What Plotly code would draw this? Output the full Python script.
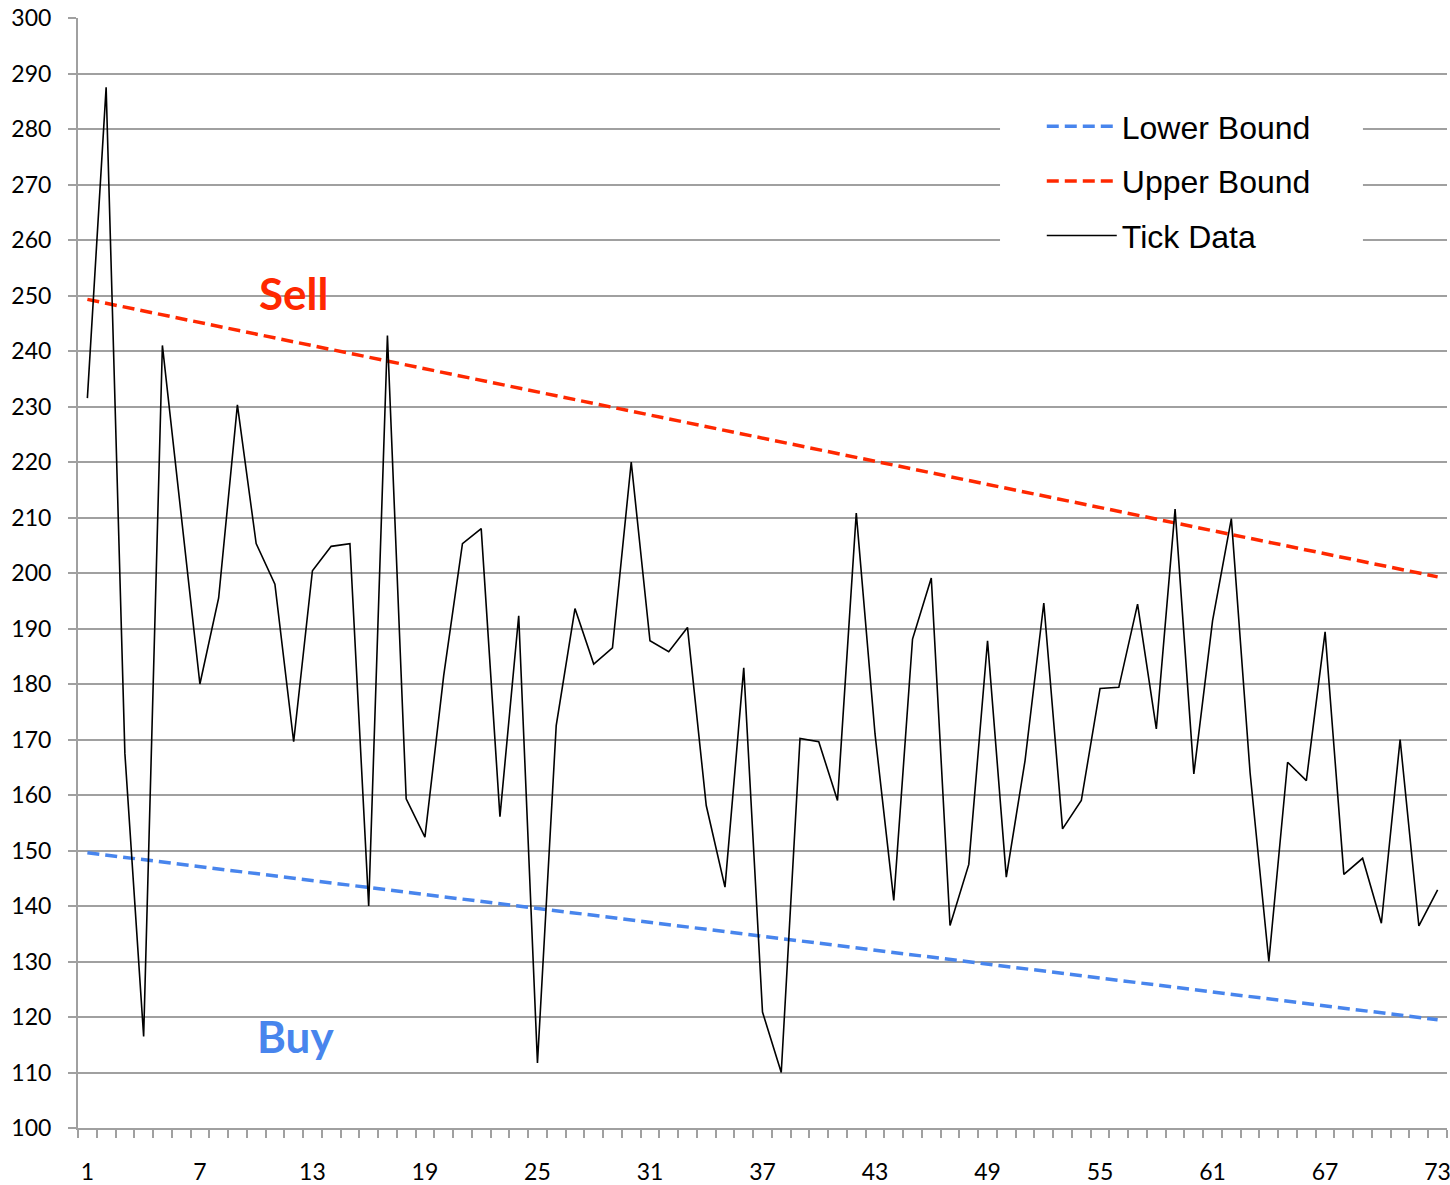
import plotly.graph_objects as go

x_idx = list(range(1, 74))
tick_data = [231.5, 287.5, 167.5, 116.5, 241.0, 210.0, 180.0, 195.5, 230.3, 205.3,
             198.0, 169.6, 200.4, 204.8, 205.3, 140.0, 242.8, 159.3, 152.4, 181.5,
             205.3, 208.0, 156.1, 192.3, 111.7, 172.5, 193.6, 183.6, 186.5, 220.0,
             187.8, 185.8, 190.2, 158.1, 143.4, 182.9, 120.9, 110.0, 170.2, 169.6,
             159.0, 210.8, 171.0, 141.0, 188.1, 199.1, 136.5, 147.5, 187.8, 145.2,
             166.2, 194.6, 153.9, 159.0, 179.2, 179.4, 194.4, 171.9, 211.5, 163.8,
             191.4, 209.8, 164.0, 130.0, 165.9, 162.6, 189.4, 145.7, 148.6, 136.9,
             170.0, 136.4, 142.9]
bound_x = [1, 73]
lower_bound = [149.6, 119.5]
upper_bound = [249.3, 199.3]
x_tickvals = [1, 7, 13, 19, 25, 31, 37, 43, 49, 55, 61, 67, 73]
y_tickvals = list(range(100, 301, 10))

BLUE = "rgb(72,133,237)"
RED = "rgb(255,40,0)"
GRID = "rgb(160,160,160)"

fig = go.Figure()
fig.add_trace(go.Scatter(x=bound_x, y=lower_bound, mode="lines", name="Lower Bound",
                         legendgroup="a",
                         line=dict(color=BLUE, width=3.5, dash="12px,6px")))
fig.add_trace(go.Scatter(x=bound_x, y=upper_bound, mode="lines", name="Upper Bound",
                         legendgroup="b",
                         line=dict(color=RED, width=3.5, dash="12px,6px")))
fig.add_trace(go.Scatter(x=x_idx, y=tick_data, mode="lines", name="Tick Data",
                         legendgroup="c",
                         line=dict(color="black", width=1.6)))

fig.add_annotation(x=12, y=250.5, text="<b>Sell</b>", showarrow=False,
                   font=dict(family="Lato", size=44, color=RED))
fig.add_annotation(x=12.1, y=116.5, text="<b>Buy</b>", showarrow=False,
                   font=dict(family="Lato", size=44, color=BLUE))

# white panel behind the legend (covers gridlines like the reference)
fig.add_shape(type="rect", xref="paper", yref="y", x0=0.6735, x1=0.9386,
              y0=256, y1=284, fillcolor="white", line=dict(width=0), layer="above")

fig.update_layout(
    width=1450, height=1185,
    margin=dict(l=78, r=3, t=18, b=57, autoexpand=False),
    paper_bgcolor="white", plot_bgcolor="white",
    font=dict(family="Lato", size=23, color="black"),
    showlegend=True,
    legend=dict(x=0.704, y=0.927, xanchor="left", yanchor="top",
                bgcolor="rgba(0,0,0,0)", borderwidth=0,
                font=dict(family="Liberation Sans", size=32, color="black"),
                itemwidth=70, tracegroupgap=10),
)
fig.update_xaxes(range=[0.5, 73.5], tickmode="array", tickvals=x_tickvals,
                 ticks="", showgrid=False, zeroline=False, automargin=False,
                 showline=True, linecolor=GRID, linewidth=2,
                 ticklabelstandoff=22, ticklabeloverflow="allow",
                 tickfont=dict(family="Lato", size=23),
                 minor=dict(tickmode="linear", tick0=0.5, dtick=1, ticks="outside",
                            ticklen=8, tickcolor=GRID, tickwidth=2, showgrid=False))
fig.update_yaxes(range=[100, 300], tickmode="array", tickvals=y_tickvals,
                 ticks="outside", ticklen=8, tickcolor=GRID, tickwidth=2,
                 showgrid=True, gridcolor=GRID, gridwidth=2, zeroline=False,
                 automargin=False,
                 showline=True, linecolor=GRID, linewidth=2,
                 ticklabelstandoff=12, ticklabeloverflow="allow",
                 tickfont=dict(family="Lato", size=23))

fig.write_html("out.html",
               config={"displayModeBar": False},
               post_script="document.body.style.margin='0';"
                           "document.body.style.overflow='hidden';")
